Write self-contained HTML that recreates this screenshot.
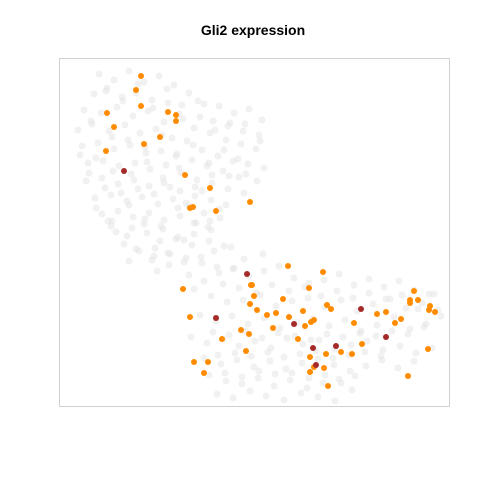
<!DOCTYPE html>
<html><head><meta charset="utf-8"><style>
body{margin:0;background:#fff;}
svg{display:block;font-family:"Liberation Sans",sans-serif;}
</style></head><body>
<svg id="chart" width="480" height="480" viewBox="0 0 480 480">
<rect x="0" y="0" width="480" height="480" fill="#fff"/>
<text x="253" y="35" text-anchor="middle" font-size="14" font-weight="bold" fill="#000">Gli2 expression</text>
<g id="gray"></g>
<g id="pts"></g>
<rect x="59.5" y="58.5" width="390" height="348" fill="none" stroke="#d0d0d0" stroke-width="1"/>
</svg>
<script>
// data coordinates (embedding units)
const grayX = [-15.5,-14,-12.5,-11,-9.5,-8,-6.5,-5,-3.5,-2,-0.5,0.8,-16,-14.8,-13.2,-11.8,-10.2,-8.7,-7.2,-5.6,-4.1,-2.6,-1.1,0.5,-17,-15.3,-13.7,-12.1,-10.6,-9,-7.5,-6,-4.4,-2.8,-1.3,0.2,-17.6,-16.2,-14.5,-12.9,-11.4,-9.8,-8.2,-6.7,-5.2,-3.6,-2.1,-0.6,1,-17.2,-15.6,-14,-12.4,-10.8,-9.3,-7.8,-6.2,-4.7,-3.1,-1.5,0.3,-16.6,-15.1,-13.5,-11.9,-10.4,-8.8,-7.3,-5.7,-4.2,-2.6,-1,-16.8,-15.2,-13.6,-12,-10.5,-9,-7.4,-5.9,-4.3,-2.8,-15.9,-14.3,-12.7,-11.2,-9.6,-8.1,-6.5,-5,-3.4,-15.2,-13.6,-12.1,-10.5,-9,-7.4,-5.8,-4.3,-13.8,-12.2,-10.7,-9.1,-7.6,-6,-4.5,-3,-11.5,-9.9,-8.4,-6.8,-5.2,-3.7,-2.1,-6.5,-5,-3.5,-2,-0.5,1,2.5,4,5.5,7,8.5,10,11.5,13,14.5,16,17.5,-6,-4.3,-2.7,-1.1,0.6,2.2,3.8,5.4,7.1,8.7,10.3,11.9,13.6,15.2,16.8,18.4,-5.4,-3.8,-2.2,-0.6,1,2.6,4.3,5.9,7.5,9.1,10.7,12.3,14,15.6,17.2,18.7,-6.3,-4.7,-3.1,-1.5,0.1,1.7,3.3,4.9,6.5,8.1,9.7,11.3,12.9,14.6,16.2,17.8,-5,-3.3,-1.7,0,1.6,3.2,4.8,6.4,8,9.6,11.2,12.8,14.4,16,-4.5,-2.8,-1.2,0.4,2,3.6,5.3,6.9,8.5,10.1,-3.7,-2.1,-0.4,1.2,3,4.7,6.4,8.1,9.8,-13,-10,-7,-4,-1,-12.5,-8.5,-2.3,0.9,-14.6,-9.7];
const grayY = [15.8,15.2,16.1,15,15.6,14.7,13.9,12.8,12.6,11.9,12.3,11.2,13.8,14.1,13.5,13.9,13.2,14.3,12.7,13.1,11.1,10.6,10.1,9.7,12.2,11.9,12.5,11.6,12.1,11,11.8,10.4,9.9,9.2,8.8,8.3,10.2,10.8,10.1,10.7,9.9,10.3,9.4,9.1,8.2,7.6,7.1,6.8,6.4,8.6,8.9,8.3,8.7,7.9,8.1,7.6,7.2,6.6,6.1,5.5,5.1,6.9,7.1,6.6,6.9,6.3,6.7,5.9,5.2,4.9,4.3,3.9,5.1,5.4,4.8,5.2,4.6,4.9,4.1,3.6,3.2,2.7,3.4,3.7,3.1,3.5,2.8,3.3,2.6,1.9,1.4,1.8,2.1,1.5,1.9,1.2,1.6,0.9,0.2,0,0.4,-0.1,0.3,-0.5,-0.2,-0.9,-1.4,-1.9,-1.6,-2.2,-2.6,-3.1,-3.5,-3.7,-4.3,-4.9,-4.1,-3.6,-4.4,-3.9,-3.4,-4.6,-5.1,-4.8,-4.2,-5.3,-4.7,-5.5,-4.9,-5.8,-6.2,-5.7,-6.4,-7,-6.8,-6.3,-7.4,-6.9,-6.6,-7.5,-6.8,-7.9,-7.2,-6.7,-7.6,-7.1,-7.8,-8.3,-8.9,-8.4,-9.2,-8.6,-9.6,-9.1,-8.7,-9.4,-8.8,-9.9,-9.3,-8.5,-9.7,-9.2,-8.4,-10.5,-11.1,-10.7,-11.4,-10.9,-11.6,-10.6,-11.2,-10.8,-11.7,-11.3,-10.9,-11.8,-11.4,-12.1,-11.6,-12.6,-13.2,-12.8,-13.5,-12.9,-13.7,-13.1,-12.7,-13.3,-13.9,-13.4,-12.8,-13.6,-12.9,-14.3,-14.9,-15.2,-14.6,-15.4,-14.8,-15.6,-15.1,-14.7,-14.4,-16.2,-16.6,-15.9,-16.4,-16.8,-16.1,-16.5,-16.9,-15.8,-1.2,-2.4,-0.8,-1.9,-2.7,-2.9,-3.3,-1.5,-2.2,1.1,-3.9];
const gray2X = [-14.7,-13.1,-11.6,-10.1,-8.6,-7.1,-5.4,-3.9,-2.4,-0.9,0.6,-16.3,-14.2,-12.6,-10.9,-9.2,-7.7,-6.1,-4.5,-3,-1.6,-17.4,-15.8,-14.1,-12.3,-10.7,-9.1,-7.5,-5.9,-4.2,-2.5,-0.8,-16.5,-14.9,-13.3,-11.6,-10,-8.4,-6.8,-5.2,-3.5,-15.8,-14.2,-12.5,-10.9,-9.3,-7.6,-6,-4.4,-14.3,-12.7,-11,-9.4,-7.8,-6.2,-4.6,-11.8,-10.2,-8.6,-7,-5.3,-3.1,-1.5,0.2,1.8,3.5,5.1,6.7,8.3,9.9,11.5,13.2,14.8,16.4,18,-4.1,-2.5,-0.9,0.8,2.4,4.1,5.7,7.3,8.9,10.6,12.2,13.8,15.4,17,-3.6,-1.9,-0.3,1.4,3,4.6,6.2,7.9,9.5,11.1,12.7,-2.9,-1.2,0.5,2.1,3.8,5.5,7.1,8.7];
const gray2Y = [14.4,13.1,14.8,12.4,12.9,11.3,11.5,10.2,10.9,10.8,9.1,11.1,9.5,9.2,8.5,9.7,7.8,8.7,6.9,8.2,7.3,7.7,7.4,6.1,5.8,7,5.4,6.4,4.5,5.7,5.6,5.8,5.9,4.4,3.9,4.3,3.8,4.5,2.9,4.1,2.3,2.4,1.1,2.7,1.3,0.6,2.4,0.9,1.1,0.6,-0.4,0.8,-0.9,-0.7,-1.3,0.5,-1.7,-2.8,-2.1,-3,-2.5,-5.2,-5.6,-6.1,-5.3,-5.9,-5.5,-6.4,-5.9,-6.6,-6.1,-6.7,-6.3,-7.7,-6.2,-10,-10.3,-9.9,-10.6,-10.1,-10.4,-10.8,-10.2,-10.5,-10.1,-10.4,-9.9,-10.2,-9.5,-12.3,-12.1,-12.4,-12,-12.5,-12.2,-11.9,-12.6,-12.3,-12,-12.4,-14.1,-14.5,-13.9,-14.2,-14.1,-14.6,-14.3,-15.1];
const expX = [-11.3,-11.8,-11.3,-14.7,-8.6,-7.8,-7.8,-14.0,-9.4,-11.0,-14.8,-6.9,-4.4,-6.4,-6.1,-3.8,-0.4,3.4,6.9,-7.1,-0.3,-0.2,0.0,5.5,2.9,-0.4,0.3,1.3,2.2,4.9,7.3,7.7,16.0,15.6,15.6,16.4,17.6,17.5,18.1,12.3,13.2,14.7,14.1,10.0,-6.4,3.5,5.1,5.7,6.0,1.9,-1.3,-0.5,-3.2,4.4,10.8,17.4,8.7,7.2,9.8,-0.8,5.6,-6.0,-4.6,-5.0,6.0,7.0,5.6,15.4,7.4];
const expY = [15.6,14.2,12.6,11.9,12.0,11.7,11.1,10.5,9.5,8.8,8.1,5.7,4.4,2.4,2.5,2.1,3.0,-3.4,-4.0,-5.7,-5.3,-5.3,-6.4,-5.6,-6.7,-7.2,-7.8,-8.3,-8.1,-7.9,-7.3,-7.7,-5.9,-6.8,-7.1,-6.8,-7.4,-7.8,-8.0,-8.2,-8.0,-8.7,-9.1,-9.1,-8.5,-8.5,-9.4,-9.0,-8.8,-9.6,-9.8,-10.2,-10.7,-10.7,-11.2,-11.7,-12.0,-12.2,-12.2,-11.9,-12.5,-13.0,-13.0,-14.1,-13.5,-13.6,-14.0,-14.4,-15.4];
const highX = [-13.0,-0.7,10.7,-3.8,4.0,13.2,5.9,8.2,6.2];
const highY = [6.1,-4.2,-7.7,-8.6,-9.2,-10.5,-11.6,-11.4,-13.3];

const xs = v => 254 + v*10;
const ys = v => 232 - v*10;
const NS = 'http://www.w3.org/2000/svg';
const g = document.getElementById('gray');
const p = document.getElementById('pts');
function dot(parent, x, y, r, fill, op){
  const c = document.createElementNS(NS,'circle');
  c.setAttribute('cx', xs(x)); c.setAttribute('cy', ys(y));
  c.setAttribute('r', r); c.setAttribute('fill', fill);
  if (op) c.setAttribute('fill-opacity', op);
  parent.appendChild(c);
  return c;
}
for (let i=0;i<grayX.length;i++){
  const c = dot(g, grayX[i], grayY[i], 3.5, '#e4e4e4', 0.5);
  
  
}
for (let i=0;i<gray2X.length;i++){
  const c = dot(g, gray2X[i], gray2Y[i], 3.5, '#e4e4e4', 0.5);
  
  
}
for (let i=0;i<expX.length;i++){
  const c = dot(p, expX[i], expY[i], 3, '#ff8c00');
  
  
}
for (let i=0;i<highX.length;i++){
  const c = dot(p, highX[i], highY[i], 3, '#a52a2a');
  
  
}
</script>
</body></html>
